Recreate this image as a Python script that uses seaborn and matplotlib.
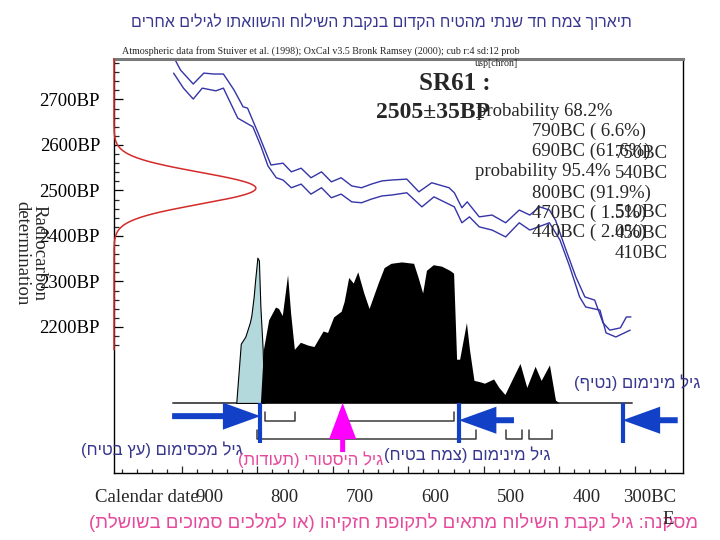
import numpy as np
import pandas as pd
import matplotlib
matplotlib.use("Agg")
import matplotlib.pyplot as plt
import seaborn as sns

# calibration curve (IntCal98 band, upper and lower edges): calendar year BC, radiocarbon age BP
cal_upper_year = [913, 902, 885, 871, 858, 845, 831, 819, 813, 799, 782, 774, 766, 755, 742, 729,
                  715, 702, 689, 675, 662, 649, 635, 622, 602, 586, 569, 546, 539, 529, 522, 506,
                  489, 471, 453, 439, 426, 413, 405, 391, 378, 366, 353, 342, 333, 319, 311, 305]
cal_upper_bp = [2800, 2765, 2734, 2758, 2756, 2756, 2721, 2684, 2681, 2626, 2556, 2558, 2560, 2541,
                2549, 2528, 2541, 2519, 2528, 2510, 2506, 2514, 2521, 2523, 2525, 2497, 2517, 2506,
                2495, 2462, 2475, 2442, 2446, 2429, 2457, 2446, 2464, 2457, 2435, 2369, 2310, 2266,
                2259, 2209, 2193, 2198, 2222, 2222]
cal_lower_year = [911, 898, 885, 873, 855, 845, 826, 806, 795, 786, 775, 766, 755, 742, 729, 715,
                  702, 689, 675, 662, 649, 635, 622, 602, 582, 566, 539, 529, 519, 506, 489, 471,
                  453, 439, 413, 399, 386, 373, 365, 346, 338, 325, 306]
cal_lower_bp = [2758, 2725, 2701, 2725, 2719, 2725, 2659, 2640, 2596, 2554, 2528, 2523, 2506, 2514,
                2492, 2506, 2484, 2492, 2475, 2473, 2481, 2488, 2490, 2495, 2464, 2486, 2464, 2429,
                2442, 2420, 2413, 2398, 2429, 2413, 2429, 2391, 2332, 2266, 2244, 2237, 2187, 2178,
                2193]

# radiocarbon measurement
sample_name = "SR61"
c14_mean = 2505
c14_sd = 35

# calibrated probability (relative, 0-100)
post_year = [796, 792, 785, 776, 772, 767, 760, 756, 751, 743, 733, 725, 713, 707, 699, 689, 685,
             679, 673, 667, 659, 652, 640, 632, 623, 609, 593, 587, 581, 576, 567, 556, 545, 540,
             536, 532, 523, 519, 513, 505, 499, 487, 480, 472, 463, 452, 443, 432, 424, 413, 405, 400]
post_prob = [0, 38, 59, 68, 67, 62, 91, 64, 38, 43, 41, 40, 51, 50, 61, 65, 72, 89, 85, 93, 78, 67,
             85, 96, 99, 100, 99, 89, 78, 94, 98, 97, 94, 92, 31, 31, 57, 38, 16, 15, 14, 17, 11, 6,
             16, 28, 11, 26, 16, 27, 2, 0]

# tree sample (light blue)
tree_year = [828, 822, 816, 810, 808, 805, 803, 800, 798, 796, 793, 791]
tree_prob = [0, 42, 47, 57, 62, 75, 87, 103, 101, 68, 38, 0]

# ranges
range_68 = [(790, 750), (690, 540)]
range_95 = [(800, 510), (470, 450), (440, 410)]
bound_years = [796, 533, 316]          # blue bars
arrow_tails = [913, 460, 243]          # blue arrows point to the bars
historic_year = 687

y_labels = [2200, 2300, 2400, 2500, 2600, 2700]
x_labels = [900, 800, 700, 600, 500, 400]

prob_left = ["probability 68.2%", "790BC ( 6.6%)", "690BC (61.6%)", "probability 95.4%",
             "800BC (91.9%)", "470BC ( 1.5%)", "440BC ( 2.0%)"]
prob_right = ["750BC", "540BC", "510BC", "450BC", "410BC"]

title = "תיארוך צמח חד שנתי מהטיח הקדום בנקבת השילוח והשוואתו לגילים אחרים"
lbl_stalactite = "גיל מינימום (נטיף)"
lbl_tree = "גיל מכסימום (עץ בטיח)"
lbl_hist = "גיל היסטורי (תעודות)"
lbl_plant = "גיל מינימום (צמח בטיח)"
conclusion = "מסקנה: גיל נקבת השילוח מתאים לתקופת חזקיהו (או למלכים סמוכים בשושלת)"


def visual(s):
    # matplotlib has no bidi support, so lay Hebrew out right-to-left by hand
    mirror = {"(": ")", ")": "("}
    return "".join(mirror.get(c, c) for c in reversed(s))


sns.set_theme(style="white")
plt.rcParams["font.family"] = ["Liberation Serif", "DejaVu Serif"]
HEB = ["Liberation Sans", "DejaVu Sans"]
NAVY = "#37378f"
PINK = "#e6489c"
BLUE = "#1241c8"

fig = plt.figure(figsize=(7.2, 5.4), dpi=100)
ax = fig.add_axes([114 / 720, 1 - 473 / 540, 569 / 720, 414 / 540])
ax.set_facecolor("white")
X0, X1 = 990, 236
ax.set_xlim(X0, X1)
ax.set_ylim(1879, 2789)

BASE = 2033     # baseline of the probability plots
SCALE = 3.1     # BP units per percent of relative probability

# calibration curve
cal = pd.DataFrame({"year": cal_upper_year, "bp": cal_upper_bp})
sns.lineplot(data=cal, x="year", y="bp", sort=False, estimator=None, color="#3434a8", lw=1, ax=ax)
cal = pd.DataFrame({"year": cal_lower_year, "bp": cal_lower_bp})
sns.lineplot(data=cal, x="year", y="bp", sort=False, estimator=None, color="#3434a8", lw=1, ax=ax)

# radiocarbon determination along the y axis
bp = np.linspace(2150, 2789, 500)
dens = np.exp(-0.5 * ((bp - c14_mean) / c14_sd) ** 2)
g = pd.DataFrame({"x": X0 - dens * 188, "bp": bp})
sns.lineplot(data=g, x="x", y="bp", sort=False, estimator=None, color="#d42a2a", lw=1.1,
             ax=ax, clip_on=False, zorder=5)

# baseline + distributions
ax.plot([912, 303], [BASE, BASE], color="#505050", lw=1.4, zorder=2)
ax.fill_between(tree_year, BASE, BASE + np.array(tree_prob) * SCALE, color="#b3d9dc",
                edgecolor="black", lw=0.8, zorder=3)
ax.fill_between(post_year, BASE, BASE + np.array(post_prob) * SCALE, color="black", lw=0, zorder=4)

# range brackets
for lev, rngs in [(1993, range_68), (1954, range_95)]:
    for a, b in rngs:
        ax.plot([a, a, b, b], [lev + 20, lev, lev, lev + 20], color="#3a3a3a", lw=1.1, zorder=3)

# boundaries and arrows
for yr, tail in zip(bound_years, arrow_tails):
    ax.plot([yr, yr], [BASE, 1945], color=BLUE, lw=3, zorder=6, solid_capstyle="butt")
    yy = 2004 if tail > yr else 1995
    ax.annotate("", xy=(yr, yy), xytext=(tail, yy),
                arrowprops=dict(width=4.3, headwidth=19.5, headlength=27, shrink=0,
                                color=BLUE, lw=0), zorder=6)
ax.annotate("", xy=(historic_year, BASE), xytext=(historic_year, 1925),
            arrowprops=dict(width=3.6, headwidth=19.5, headlength=26, shrink=0,
                            color="#ff00ff", lw=0), zorder=6)

# axes styling
for side in ["left", "bottom", "right"]:
    ax.spines[side].set_color("black")
    ax.spines[side].set_linewidth(1)
ax.spines["top"].set_color("#7a7a7a")
ax.spines["top"].set_linewidth(2.2)
ax.set_xlabel("")
ax.set_ylabel("")
ax.set_yticks(y_labels)
ax.set_yticklabels([f"{v}BP" for v in y_labels])
ax.set_yticks(list(range(2160, 2781, 20)), minor=True)
ax.set_xticks(list(range(900, 299, -100)))
ax.set_xticklabels([])
ax.set_xticks(list(range(980, 240, -20)), minor=True)
ax.tick_params(axis="y", which="major", direction="in", length=6.5, width=0.9, left=True,
               pad=10, labelsize=13.5, colors="black")
ax.tick_params(axis="y", which="minor", direction="in", length=3.6, width=0.9, left=True)
ax.tick_params(axis="x", which="major", direction="in", length=5, width=0.9, bottom=True)
ax.tick_params(axis="x", which="minor", direction="in", length=3, width=0.9, bottom=True)
ax.grid(False)

xt = ax.get_xaxis_transform()
ly = -(498 - 473) / 414
for v in x_labels:
    ax.text(v - 36, ly, str(v), transform=xt, ha="center", va="center", fontsize=13.5)
ax.text(280, ly, "300BC", transform=xt, ha="center", va="center", fontsize=13.5)
ax.text((199 - 114) / 569, ly, "Calendar date", transform=ax.transAxes, ha="right",
        va="center", fontsize=13.5)


def px(x, y):
    return x / 720, 1 - y / 540


fig.text(*px(30, 253), "Radiocarbon\ndetermination", rotation=270, ha="center", va="center",
         multialignment="center", fontsize=13.5, linespacing=1.0)

fig.text(*px(122, 51), "Atmospheric data from Stuiver et al. (1998); OxCal v3.5 Bronk Ramsey "
         "(2000); cub r:4 sd:12 prob", fontsize=7.2, va="center", ha="left")
fig.text(*px(518, 64), "usp[chron]", fontsize=7.2, va="center", ha="right")

fig.text(*px(455, 83), f"{sample_name} :", fontsize=18, fontweight="bold", ha="center", va="center")
fig.text(*px(433, 112), f"{c14_mean}\u00b1{c14_sd}BP", fontsize=17, fontweight="bold",
         ha="center", va="center")

left_pos = [(477, 112), (532, 131), (532, 151), (475, 171), (532, 193), (532, 213), (532, 232)]
for s, (x, y) in zip(prob_left, left_pos):
    fig.text(*px(x, y), s, fontsize=13.5, ha="left", va="center")
right_y = [153, 173, 213, 233, 253]
for s, y in zip(prob_right, right_y):
    fig.text(*px(668, y), s, fontsize=13.5, ha="right", va="center")

# Hebrew annotations
fig.text(*px(381, 22), visual(title), family=HEB, fontsize=11.4, color=NAVY, ha="center", va="center")
fig.text(*px(700, 383), visual(lbl_stalactite), family=HEB, fontsize=12, color=NAVY, ha="right", va="center")
fig.text(*px(243, 450), visual(lbl_tree), family=HEB, fontsize=12, color=NAVY, ha="right", va="center")
fig.text(*px(383, 460), visual(lbl_hist), family=HEB, fontsize=12, color=PINK, ha="right", va="center")
fig.text(*px(550, 455), visual(lbl_plant), family=HEB, fontsize=12, color=NAVY, ha="right", va="center")
fig.text(*px(698, 522), visual(conclusion), family=HEB, fontsize=13.3, color=PINK, ha="right", va="center")
fig.text(*px(668, 520), "E", fontsize=13.5, ha="center", va="center")

fig.savefig("out.png", dpi=100)
